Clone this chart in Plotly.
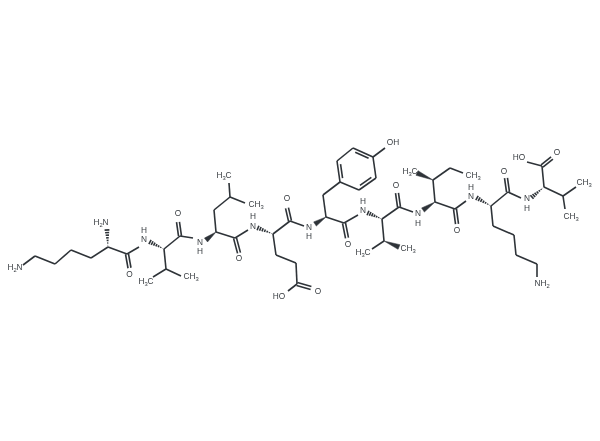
import numpy as np
import plotly.graph_objects as go

# atom positions (pixels of the 600x441 image)
atoms = {
    "n1": (23, 265), "a1": (35, 256), "a2": (55, 264), "a3": (71, 250), "a4": (91, 258),
    "ca1": (108, 247), "n1b": (107, 230), "c1": (127, 254), "o1": (129.5, 268), "n2l": (139, 247),
    "n2r": (150, 242), "ca2": (164, 249), "c2": (180, 236), "o2": (178, 222), "cb2": (166, 269),
    "m2a": (153, 277), "m2b": (181, 276), "n3l": (193, 238), "n3r": (206, 240),
    "ca3": (216, 232), "cb3": (214, 210), "cg3": (230, 197), "m3a": (229, 183), "m3b": (245, 203),
    "c3": (235, 238), "o3": (239, 253), "n4l": (248, 230), "n4r": (258, 228),
    "ca4": (273, 234), "cb4": (276, 255), "cg4": (296, 263), "cd4": (297, 284), "od4": (311, 288),
    "oh4": (288, 291), "c4": (290, 221), "o4": (287, 208), "n5l": (304, 226), "n5r": (315, 224),
    "ca5": (326, 217), "cb5": (323, 195), "r1": (340, 182), "r2": (337, 161), "r3": (353, 148),
    "r4": (373, 157), "r5": (376, 178), "r6": (359, 190), "oh5": (385, 148), "c5": (344, 223),
    "o5": (347, 238), "n6l": (358, 215), "n6r": (368, 213),
    "ca6": (382, 219), "cb6": (384, 241), "m6a": (372, 249), "m6b": (399, 247), "c6": (399, 207),
    "o6": (397, 193), "n7l": (413, 212), "n7r": (423, 210),
    "ca7": (435, 202), "cb7": (433, 180), "m7a": (417, 173), "cg7": (450, 168), "m7b": (463, 173),
    "c7": (455, 209), "o7": (457, 224), "n8l": (466, 201), "n8r": (477, 198),
    "ca8": (491, 206), "c8": (508, 192), "o8": (506, 178), "n9l": (521, 198), "n9r": (532, 197),
    "cb8": (493, 226), "cg8": (514, 235), "cd8": (516, 255), "ce8": (537, 264), "n8z": (537, 277),
    "ca9": (544, 187), "c9": (542, 166), "o9": (552, 158), "oh9": (527, 162), "cb9": (563, 196),
    "m9a": (576, 187), "m9b": (565, 209),
}

single_bonds = [
    ("n1", "a1"), ("a1", "a2"), ("a2", "a3"), ("a3", "a4"), ("a4", "ca1"), ("ca1", "c1"), ("c1", "n2l"),
    ("ca2", "c2"), ("ca2", "cb2"), ("cb2", "m2a"), ("cb2", "m2b"), ("c2", "n3l"),
    ("ca3", "cb3"), ("cb3", "cg3"), ("cg3", "m3a"), ("cg3", "m3b"), ("ca3", "c3"), ("c3", "n4l"),
    ("ca4", "cb4"), ("cb4", "cg4"), ("cg4", "cd4"), ("cd4", "oh4"), ("ca4", "c4"), ("c4", "n5l"),
    ("ca5", "cb5"), ("cb5", "r1"), ("r2", "r3"), ("r4", "r5"), ("r6", "r1"), ("r4", "oh5"),
    ("ca5", "c5"), ("c5", "n6l"), ("ca6", "cb6"), ("cb6", "m6a"), ("ca6", "c6"), ("c6", "n7l"),
    ("ca7", "cb7"), ("cb7", "cg7"), ("cg7", "m7b"), ("ca7", "c7"), ("c7", "n8l"),
    ("ca8", "c8"), ("c8", "n9l"), ("ca8", "cb8"), ("cb8", "cg8"), ("cg8", "cd8"), ("cd8", "ce8"),
    ("ce8", "n8z"), ("ca9", "c9"), ("c9", "oh9"), ("ca9", "cb9"), ("cb9", "m9a"), ("cb9", "m9b"),
]
# (from, to, side of the second line)
double_bonds = [
    ("c1", "o1", 1), ("c2", "o2", 1), ("c3", "o3", 1), ("c4", "o4", 1), ("cd4", "od4", 1),
    ("c5", "o5", 1), ("c6", "o6", 1), ("c7", "o7", 1), ("c8", "o8", 1), ("c9", "o9", 1),
]
ring_inner = [("r1", "r2"), ("r3", "r4"), ("r5", "r6")]
ring_center = (356.5, 169)
wedge_bonds = [("ca3", "n3r"), ("ca5", "n5r"), ("ca7", "n7r"), ("cb6", "m6b"), ("cb7", "m7a")]
hash_bonds = [("ca1", "n1b"), ("ca2", "n2r"), ("ca4", "n4r"), ("ca6", "n6r"), ("ca8", "n8r"), ("ca9", "n9r")]

label_text = [
    "H<sub>2</sub>N", "H<sub>2</sub>N", "O", "N", "H", "O", "H<sub>3</sub>C", "CH<sub>3</sub>",
    "N", "H", "H<sub>3</sub>C", "CH<sub>3</sub>", "O", "N", "H", "HO", "O", "O", "N", "H",
    "OH", "O", "N", "H", "H<sub>3</sub>C", "CH<sub>3</sub>", "O", "N", "H", "H<sub>3</sub>C",
    "CH<sub>3</sub>", "O", "N", "H", "O", "N", "H", "NH<sub>2</sub>", "HO", "O", "CH<sub>3</sub>",
    "CH<sub>3</sub>",
]
label_x = [
    15, 101, 129.5, 144, 144, 178, 146, 191,
    200, 200, 224, 256, 239, 253, 253, 279, 318, 287, 309, 309,
    393, 348, 363, 363, 363, 408, 396, 418, 418, 410,
    473, 457, 471, 471, 504, 527, 527, 542, 519, 557, 584,
    571,
]
label_y = [
    268, 223, 274.5, 240, 231, 214, 282, 277,
    243, 252, 176, 205, 259, 227, 217, 297, 292, 199, 228, 237,
    143, 245, 211, 202, 253, 249, 186, 214, 224, 172,
    176, 231, 197, 188, 172, 199, 209, 284, 158, 153, 183,
    217,
]

ink = "#2e3338"

line_x, line_y = [], []


def add_segment(p, q):
    line_x.extend([p[0], q[0], None])
    line_y.extend([p[1], q[1], None])


for a, b in single_bonds:
    add_segment(atoms[a], atoms[b])

for a, b, side in double_bonds:
    p, q = np.array(atoms[a], float), np.array(atoms[b], float)
    d = (q - p) / np.linalg.norm(q - p)
    n = np.array([-d[1], d[0]]) * 1.5 * side
    add_segment(p + n, q + n)
    add_segment(p - n, q - n)

for a, b in ring_inner:
    p, q = np.array(atoms[a], float), np.array(atoms[b], float)
    add_segment(p, q)
    c = np.array(ring_center)
    add_segment(p + (c - p) * 0.17 + (q - p) * 0.08, q + (c - q) * 0.17 - (q - p) * 0.08)

# hashed bonds: short strokes growing away from the stereo centre
for a, b in hash_bonds:
    p, q = np.array(atoms[a], float), np.array(atoms[b], float)
    d = q - p
    n = np.array([-d[1], d[0]]) / np.linalg.norm(d)
    for t in np.linspace(0.08, 1, 7):
        m = p + d * t
        add_segment(m + n * 2.4 * t, m - n * 2.4 * t)

fig = go.Figure()
fig.add_trace(go.Scatter(x=line_x, y=line_y, mode="lines", line=dict(color=ink, width=1.6),
                         hoverinfo="skip", showlegend=False))

# solid wedges
for a, b in wedge_bonds:
    p, q = np.array(atoms[a], float), np.array(atoms[b], float)
    d = q - p
    n = np.array([-d[1], d[0]]) / np.linalg.norm(d) * 2.5
    fig.add_trace(go.Scatter(x=[p[0], (q + n)[0], (q - n)[0], p[0]], y=[p[1], (q + n)[1], (q - n)[1], p[1]],
                             mode="lines", fill="toself", fillcolor=ink, line=dict(color=ink, width=0.5),
                             hoverinfo="skip", showlegend=False))

# opacity just under 1 keeps the text antialiasing grey
fig.add_trace(go.Scatter(x=label_x, y=label_y, mode="text", text=label_text, textposition="middle center",
                         textfont=dict(family="Liberation Sans", size=8.3, color="#33383d"), opacity=0.98,
                         hoverinfo="skip", showlegend=False))

fig.update_layout(
    width=600, height=441,
    margin=dict(l=0, r=0, t=0, b=0),
    paper_bgcolor="white", plot_bgcolor="white",
    xaxis=dict(range=[0, 600], visible=False, fixedrange=True),
    yaxis=dict(range=[441, 0], visible=False, fixedrange=True),
)

# the page's default body margin would push the plot 8px down and right
fig.write_html("out.html", config=dict(displayModeBar=False),
               post_script="document.body.style.margin='0';document.body.style.overflow='hidden';")
